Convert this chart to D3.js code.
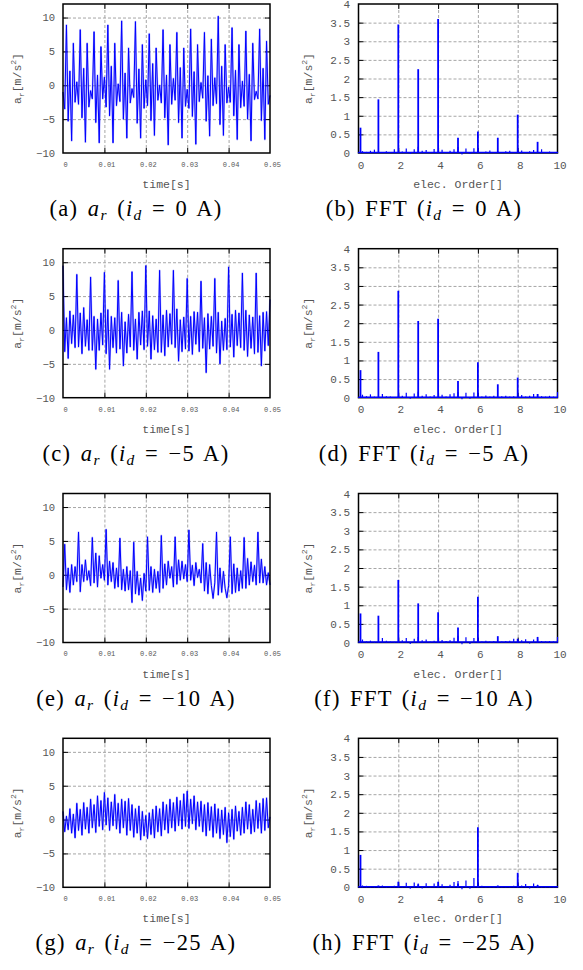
<!DOCTYPE html>
<html><head><meta charset="utf-8">
<script src="https://cdn.jsdelivr.net/npm/d3@7"></script>
<style>body{margin:0;background:#fff}svg{display:block}</style>
</head><body>
<svg id="fig" width="583" height="970"></svg>
<script>
// ---------- data ----------
const timeTicks = [0, 0.01, 0.02, 0.03, 0.04, 0.05];
const accTicks = [-10, -5, 0, 5, 10];
const orderTicks = [0, 2, 4, 6, 8, 10];
const fftTicks = [0, 0.5, 1, 1.5, 2, 2.5, 3, 3.5, 4];
const sampleStep = 0.05 / 120;   // s between samples
const noiseStep = 0.2;           // order between spectrum floor samples

const accA = [-1.0, -3.5,
  8.9, -5.3, 2.1, -8.2, 6.2, -2.5, 0.5, -2.8,
  8.2, -4.8, 2.5, -8.4, 6.2, -3.2, -0.8, -2.0,
  7.9, -5.5, 1.5, -8.5, 5.7, -2.0, 1.2, -3.2,
  8.9, -4.5, 2.8, -8.5, 6.2, -3.0, 0.2, -2.4,
  9.5, -5.0, 1.8, -7.8, 5.5, -2.6, -0.5, -1.8,
  9.4, -5.6, 2.4, -7.8, 6.0, -3.4, 0.8, -3.0,
  7.6, -5.2, 3.2, -7.4, 5.5, -2.2, 0.0, -2.6,
  8.2, -4.8, 1.5, -8.8, 6.0, -2.8, 1.0, -2.2,
  7.8, -5.5, 2.6, -7.8, 5.5, -3.1, -0.6, -3.4,
  8.3, -4.6, 2.0, -8.7, 6.0, -2.4, 0.4, -1.9,
  7.8, -5.3, 1.4, -7.5, 6.8, -3.0, 1.1, -2.7,
  10.2, -5.8, 2.8, -7.4, 6.0, -2.6, -0.3, -2.5,
  8.5, -4.5, 2.2, -8.0, 6.0, -3.3, 0.6, -3.1,
  8.0, -5.0, 1.6, -8.2, 6.2, -2.1, -0.9, -2.0,
  8.3, -5.2, 2.5, -8.0, 6.5, -2.8, -1.5];

const accC = [
  9.5, -3.2, 1.8, -4.2, 2.8, -2.0, 2.2, -2.6,
  8.2, -2.5, 2.5, -3.5, 3.3, -2.4, 1.5, -3.0,
  7.8, -3.0, 2.0, -5.8, 1.6, -3.0, 2.5, -2.2,
  8.5, -3.5, 3.0, -5.8, 2.0, -2.6, 1.8, -3.4,
  7.3, -2.8, 2.6, -5.3, 1.2, -3.4, 2.3, -2.5,
  8.6, -3.0, 1.6, -4.3, 2.6, -2.2, 2.8, -2.9,
  9.5, -2.4, 2.8, -4.3, 2.1, -2.9, 1.6, -3.3,
  8.8, -3.3, 2.2, -3.8, 2.9, -2.5, 2.4, -2.1,
  8.8, -2.6, 3.1, -4.6, 1.5, -3.2, 1.9, -2.8,
  7.6, -3.1, 2.0, -3.6, 2.7, -2.1, 2.6, -3.2,
  7.2, -2.7, 1.8, -6.3, 2.4, -2.8, 2.0, -2.4,
  7.6, -3.4, 2.6, -5.0, 1.3, -3.0, 1.7, -2.9,
  9.3, -2.5, 2.3, -4.0, 2.9, -2.3, 2.5, -2.6,
  8.4, -3.0, 2.9, -3.9, 2.2, -2.7, 1.9, -3.5,
  8.4, -3.3, 2.1, -5.3, 2.6, -3.1, 2.7, -2.3,
  4.5];

const accE = [-1.8,
  4.5, -2.2, 1.0, -2.6, 1.5, -1.5, 1.2, -1.0,
  6.3, -2.5, 1.5, -1.0, 2.2, -0.8, 0.6, -1.6,
  5.5, -1.2, 3.2, -1.8, 2.8, -0.5, 1.5, -0.8,
  6.7, -1.5, 2.0, -1.0, 1.8, -2.0, 1.0, -1.8,
  5.4, -2.2, 0.8, -2.4, 1.2, -2.2, 0.6, -4.1,
  4.8, -2.8, 0.5, -3.0, -0.5, -3.8, 0.2, -2.4,
  5.6, -2.3, 1.2, -2.6, 0.8, -2.0, 0.5, -2.6,
  5.8, -2.0, 1.6, -1.5, 2.0, -0.5, 1.2, -1.8,
  5.6, -1.4, 2.2, -0.8, 2.0, -0.6, 1.5, -1.0,
  6.6, -0.8, 1.4, -1.6, 1.8, -0.4, 0.8, -1.2,
  4.6, -2.4, 1.8, -2.8, 1.5, -1.6, -3.5, -1.2,
  6.3, -3.0, 1.0, -2.6, 0.5, -2.0, -3.4, -1.6,
  5.6, -2.8, 1.6, -2.6, 1.0, -2.4, 0.6, -2.0,
  5.5, -2.0, 2.4, -1.5, 1.9, -1.0, 1.4, -1.5,
  6.3, -1.2, 2.3, -1.2, 1.2, -1.5, 0.3, -1.5];

const accG = [
  1.2, -1.8, 0.5, -1.5, 1.6, -2.0, 0.8, -2.7, 2.4, -1.6,
  1.5, -2.3, 2.5, -1.4, 1.8, -2.0, 3.0, -1.2, 2.2, -1.9,
  3.5, -1.0, 2.8, -1.5, 4.0, -0.8, 3.2, -1.6, 2.6, -0.9,
  3.7, -1.4, 2.4, -2.0, 3.0, -1.2, 2.7, -2.3, 3.1, -1.6,
  2.2, -2.6, 1.6, -2.0, 2.0, -3.0, 1.2, -2.4, 0.6, -2.8,
  1.0, -2.2, 1.5, -2.7, 2.0, -1.8, 1.6, -2.4, 2.6, -1.5,
  2.2, -2.0, 3.0, -1.2, 2.5, -1.7, 3.3, -0.9, 2.8, -1.4,
  3.8, -1.0, 4.2, -1.3, 3.0, -0.6, 3.5, -1.5, 2.6, -1.0,
  2.7, -1.8, 2.2, -2.4, 2.5, -1.6, 1.9, -2.6, 2.3, -2.0,
  1.6, -2.8, 1.4, -2.2, 1.8, -3.4, 1.0, -2.5, 1.5, -2.9,
  2.0, -1.7, 1.2, -2.3, 1.8, -2.0, 2.6, -1.4, 2.2, -2.1,
  1.5, -1.8, 2.8, -1.3, 2.4, -2.0, 3.1, -1.6, 3.2, -1.2,
  0.4];

const peakOrders = [0.1, 1, 2, 3, 4, 5, 6, 7, 8, 9];
const fftB = [0.68, 1.44, 3.45, 2.25, 3.60, 0.41, 0.58, 0.41, 1.03, 0.30];
const fftD = [0.74, 1.23, 2.87, 2.06, 2.12, 0.45, 0.95, 0.36, 0.54, 0.10];
const fftF = [0.78, 0.72, 1.68, 1.05, 0.81, 0.40, 1.23, 0.17, 0.10, 0.15];
const fftH = [0.87, 0.05, 0.15, 0.08, 0.15, 0.10, 1.61, 0.05, 0.39, 0.06];

const floorB = [0.02,0.05,0.03,0.06,0.09, 0.02,0.03,0.05,0.03,0.10, 0.02,0.04,0.12,-0.03,0.10,
  0.17,0.06,0.08,0.03,0.11, 0.02,0.09,0.03,0.06,0.10, 0.16,-0.04,0.12,-0.03,0.13,
  0.05,0.03,0.04,0.07,0.03, 0.04,0.02,0.05,0.06,0.03, 0.05,0.07,0.03,0.05,0.08,
  0.03,0.10,0.02,0.04,0.02, 0.03];
const floorD = [0.02,0.08,0.04,0.09,0.03, 0.02,0.10,0.04,0.03,0.02, 0.03,0.05,0.13,-0.03,0.11,
  0.16,0.05,0.09,0.03,0.07, 0.02,0.08,0.03,0.09,0.12, 0.15,-0.04,0.13,-0.03,0.14,
  0.05,0.03,0.06,0.03,0.05, 0.02,0.04,0.05,0.03,0.04, 0.03,0.07,0.03,0.05,0.10,
  0.09,0.04,0.03,0.05,0.03, 0.15];
const floorF = [0.02,0.08,0.03,0.05,0.02, 0.02,0.12,0.05,0.03,0.02, 0.03,0.06,0.12,-0.04,0.10,
  0.15,0.06,0.08,0.03,0.05, 0.02,0.07,0.04,0.06,0.13, 0.18,-0.05,0.14,-0.04,0.12,
  0.04,0.03,0.05,0.03,0.04, 0.02,0.03,0.04,0.05,0.10, 0.03,0.06,0.09,-0.03,0.08,
  0.10,0.04,0.03,0.04,0.03, 0.15];
const floorH = [0.02,0.05,0.04,0.03,0.02, 0.03,0.05,0.02,0.03,0.04, 0.03,0.02,0.12,-0.04,0.13,
  0.10,-0.03,0.11,0.03,0.10, 0.04,0.08,0.03,0.07,0.14, 0.17,-0.05,0.18,-0.04,0.25,
  0.05,0.04,0.03,0.02,0.03, 0.02,0.03,0.02,0.03,0.04, 0.03,0.05,0.09,-0.03,0.10,
  0.07,0.03,0.02,0.03,0.02, 0.03];

const timeSeries = [accA, accC, accE, accG];
const fftSeries = [fftB, fftD, fftF, fftH];
const fftFloors = [floorB, floorD, floorF, floorH];
const leftLetters = ["a", "c", "e", "g"];
const rightLetters = ["b", "d", "f", "h"];
const idValues = ["0", "\u22125", "\u221210", "\u221225"];

// ---------- layout ----------
const svg = d3.select("#fig");
const L = {x0: 63, x1: 270}, R = {x0: 358.5, x1: 557.5};
const rowTop = [4, 248.7, 493.5, 738.3], plotH = 149;
const txt = "#555";
const mono = "'Liberation Mono', 'DejaVu Sans Mono', monospace";
const serif = "'Liberation Serif', 'DejaVu Serif', serif";
const blue = "#0000ff";

function frame(g, x, y, xIn, yIn, x0, x1, y0, y1) {
  const gridStyle = s => { s.select(".domain").remove();
    s.selectAll(".tick line").attr("stroke", "#9c9c9c").attr("stroke-width", 0.9).attr("stroke-dasharray", "3,2"); };
  g.append("g").attr("transform", `translate(0,${y1})`)
    .call(d3.axisBottom(x).tickValues(xIn).tickSize(-(y1 - y0)).tickFormat("")).call(gridStyle);
  g.append("g").attr("transform", `translate(${x0},0)`)
    .call(d3.axisLeft(y).tickValues(yIn).tickSize(-(x1 - x0)).tickFormat("")).call(gridStyle);
  const tickStyle = s => { s.select(".domain").remove(); s.selectAll(".tick line").attr("stroke", "#000").attr("stroke-width", 1); };
  const tk = 5;
  g.append("g").attr("transform", `translate(0,${y1})`).call(d3.axisBottom(x).tickValues(xIn).tickSize(-tk).tickFormat("")).call(tickStyle);
  g.append("g").attr("transform", `translate(0,${y0})`).call(d3.axisTop(x).tickValues(xIn).tickSize(-tk).tickFormat("")).call(tickStyle);
  g.append("g").attr("transform", `translate(${x0},0)`).call(d3.axisLeft(y).tickValues(yIn).tickSize(-tk).tickFormat("")).call(tickStyle);
  g.append("g").attr("transform", `translate(${x1},0)`).call(d3.axisRight(y).tickValues(yIn).tickSize(-tk).tickFormat("")).call(tickStyle);
}
function border(g, x0, x1, y0, y1) {
  g.append("rect").attr("x", x0).attr("y", y0).attr("width", x1 - x0).attr("height", y1 - y0)
    .attr("fill", "none").attr("stroke", "#000").attr("stroke-width", 1.5);
}
function labelAxes(g, x, y, xt, yt, xfmt, yfmt, xfs, yfs, y1, x0, xpad, ypad) {
  g.append("g").attr("transform", `translate(0,${y1})`)
    .call(d3.axisBottom(x).tickValues(xt).tickSize(0).tickPadding(xpad).tickFormat(xfmt))
    .call(s => { s.select(".domain").remove(); s.attr("font-family", null).attr("font-size", null);
      s.selectAll("text").attr("fill", txt).attr("font-family", mono).attr("font-size", xfs).attr("dx", 2); });
  g.append("g").attr("transform", `translate(${x0},0)`)
    .call(d3.axisLeft(y).tickValues(yt).tickSize(0).tickPadding(ypad).tickFormat(yfmt))
    .call(s => { s.select(".domain").remove(); s.attr("font-family", null).attr("font-size", null);
      s.selectAll("text").attr("fill", txt).attr("font-family", mono).attr("font-size", yfs); });
}
function yTitle(g, cx, cy) {
  const t = g.append("text").attr("transform", `translate(${cx},${cy}) rotate(-90)`)
    .attr("text-anchor", "middle").attr("font-family", mono).attr("font-size", 11.5).attr("fill", txt);
  t.append("tspan").text("a");
  t.append("tspan").attr("font-size", 8).attr("dy", 3).text("r");
  t.append("tspan").attr("dy", -3).text("[m/s");
  t.append("tspan").attr("font-size", 8).attr("dy", -5).text("2");
  t.append("tspan").attr("dy", 5).text("]");
}
function xTitle(g, cx, yb, s) {
  g.append("text").attr("x", cx).attr("y", yb).attr("text-anchor", "middle")
    .attr("font-family", mono).attr("font-size", 11.5).attr("fill", txt).text(s);
}
function caption(cx, yb, letter, kind, idv) {
  const t = svg.append("text").attr("x", cx).attr("y", yb).attr("text-anchor", "middle")
    .attr("font-family", serif).attr("font-size", 22.5).attr("fill", "#000")
    .attr("letter-spacing", 1.3).attr("word-spacing", 2.5);
  t.append("tspan").text(`(${letter}) `);
  if (kind === "ar") {
    t.append("tspan").attr("font-style", "italic").text("a");
    t.append("tspan").attr("font-style", "italic").attr("font-size", 15.5).attr("dy", 4).text("r");
    t.append("tspan").attr("dy", -4).text(" (");
  } else {
    t.append("tspan").text("FFT (");
  }
  t.append("tspan").attr("font-style", "italic").text("i");
  t.append("tspan").attr("font-style", "italic").attr("font-size", 15.5).attr("dy", 4).text("d");
  t.append("tspan").attr("dy", -4).text(` = ${idv} A)`);
}

for (let r = 0; r < 4; r++) {
  const y0 = rowTop[r], y1 = y0 + plotH;
  // ---- time panel ----
  const gL = svg.append("g");
  const x = d3.scaleLinear().domain([0, 0.05]).range([L.x0, L.x1]);
  const y = d3.scaleLinear().domain([-10, 12]).range([y1, y0]);
  frame(gL, x, y, timeTicks.slice(1, -1), accTicks.slice(1), L.x0, L.x1, y0, y1);
  const line = d3.line().x((d, i) => x(i * sampleStep)).y(d => y(d));
  gL.append("path").datum(timeSeries[r]).attr("d", line).attr("fill", "none")
    .attr("stroke", "#3a3aff").attr("stroke-width", 1.9).attr("stroke-opacity", 0.35).attr("stroke-linejoin", "round");
  gL.append("path").datum(timeSeries[r]).attr("d", line).attr("fill", "none")
    .attr("stroke", blue).attr("stroke-width", 1.0).attr("stroke-linejoin", "round");
  border(gL, L.x0, L.x1, y0, y1);
  labelAxes(gL, x, y, timeTicks, accTicks, d => d === 0 ? "0" : d3.format(".2f")(d), d3.format("d"),
    7, 10.5, y1, L.x0, 9, 8);
  yTitle(gL, 21, (y0 + y1) / 2);
  xTitle(gL, (L.x0 + L.x1) / 2, y1 + 35, "time[s]");

  // ---- FFT panel ----
  const gR = svg.append("g");
  const xf = d3.scaleLinear().domain([0, 10]).range([R.x0, R.x1]);
  const yf = d3.scaleLinear().domain([0, 4]).range([y1, y0]);
  frame(gR, xf, yf, orderTicks.slice(1, -1), fftTicks.slice(1, -1), R.x0, R.x1, y0, y1);
  border(gR, R.x0, R.x1, y0, y1);
  // spectral floor as short stems
  gR.append("g").selectAll("line").data(fftFloors[r]).join("line")
    .attr("x1", (d, i) => xf(i * noiseStep)).attr("x2", (d, i) => xf(i * noiseStep))
    .attr("y1", yf(0)).attr("y2", d => yf(d))
    .attr("stroke", blue).attr("stroke-width", 1.2);
  // harmonic peaks
  gR.append("g").selectAll("line").data(fftSeries[r]).join("line")
    .attr("x1", (d, i) => xf(peakOrders[i])).attr("x2", (d, i) => xf(peakOrders[i]))
    .attr("y1", yf(0)).attr("y2", d => yf(d))
    .attr("stroke", blue).attr("stroke-width", 1.8);
  gR.append("line").attr("x1", xf(0)).attr("x2", xf(10)).attr("y1", yf(0) - 0.5).attr("y2", yf(0) - 0.5)
    .attr("stroke", blue).attr("stroke-width", 1.6);
  labelAxes(gR, xf, yf, orderTicks, fftTicks, d3.format("d"), d3.format("~g"),
    11, 11, y1, R.x0, 8, 8.5);
  yTitle(gR, 312, (y0 + y1) / 2);
  xTitle(gR, (R.x0 + R.x1) / 2, y1 + 35, "elec. Order[]");

  caption(136, y1 + 63, leftLetters[r], "ar", idValues[r]);
  caption(424, y1 + 63, rightLetters[r], "fft", idValues[r]);
}
</script>
</body></html>
